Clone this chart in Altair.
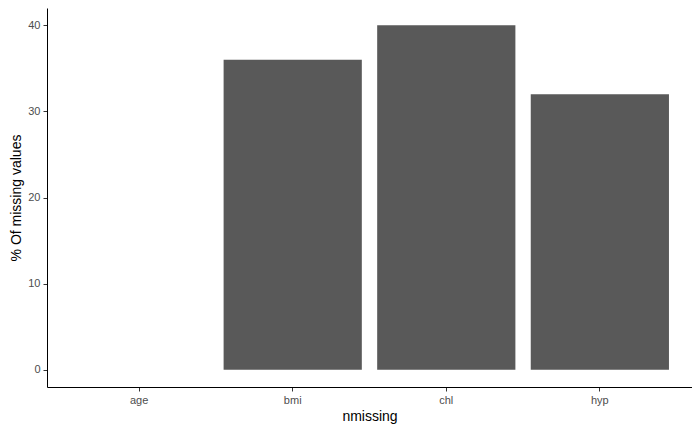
import altair as alt
import pandas as pd

variables = ["age", "bmi", "chl", "hyp"]
pct_missing = [0, 36, 40, 32]

df = pd.DataFrame({"nmissing": variables, "pct": pct_missing})

chart = alt.Chart(df).mark_bar(color="#595959").encode(
    alt.X("nmissing:N", title="nmissing",
          scale=alt.Scale(paddingInner=0.1, paddingOuter=0.15),
          axis=alt.Axis(labelAngle=0)),
    alt.Y("pct:Q", title="% Of missing values",
          scale=alt.Scale(domain=[-2, 42], nice=False, zero=False),
          axis=alt.Axis(values=[0, 10, 20, 30, 40], grid=False)),
).properties(
    width=645, height=379,
    autosize=alt.AutoSizeParams(type="none"),
    padding={"left": 39, "top": 0, "right": 0, "bottom": 40},
).configure_view(stroke=None).configure_axis(
    domainColor="black", domainWidth=1, tickColor="#333333", tickSize=4,
    labelColor="#4d4d4d", labelFontSize=11, labelFont="Liberation Sans",
    titleFont="Liberation Sans", titleFontSize=14, titleFontWeight="normal",
    titleColor="black", labelPadding=3,
).configure_axisX(titlePadding=4).configure_axisY(titlePadding=4)

chart.save("out.html", embed_options={"renderer": "svg", "actions": False})
